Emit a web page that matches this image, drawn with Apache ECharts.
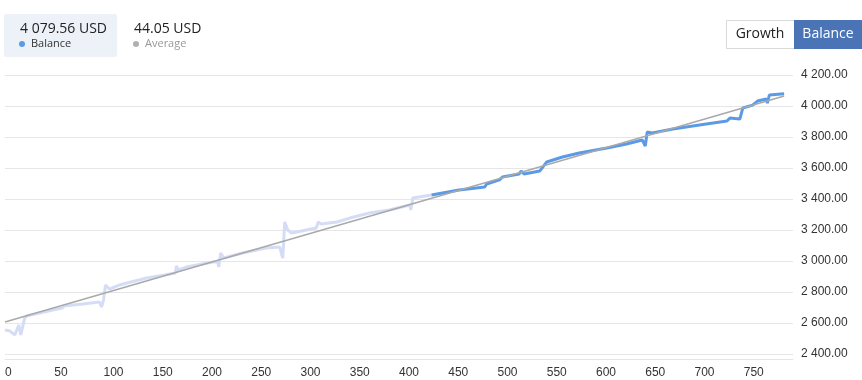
<!DOCTYPE html>
<html>
<head>
<meta charset="utf-8">
<script src="https://cdn.jsdelivr.net/npm/echarts@6/dist/echarts.min.js"></script>
<style>
html,body{margin:0;padding:0;background:#fff;}
#chart{width:862px;height:380px;}
</style>
</head>
<body>
<div id="chart"></div>
<script>
// ---- data ----
const tradeNo = [0,5,10,12,14,16,18,20,22,35,58,60,79,96,98,100,102,106,116,144,162,173,174,176,184,211,216,217,219,222,241,265,279,281,282,284,287,291,316,318,321,337,350,370,390,411,412,414,433,461,487,489,502,505,522,524,527,543,546,550,566,583,611,631,647,650,652,657,678,705,733,736,746,749,759,764,773,774,776,791];
const balance = [2555,2548,2523,2529,2587,2523,2535,2632,2645,2665,2697,2710,2723,2735,2703,2748,2845,2819,2845,2890,2910,2923,2968,2942,2961,2994,2994,2961,3052,3019,3052,3084,3090,3039,3019,3252,3200,3181,3213,3252,3239,3252,3277,3310,3329,3361,3329,3406,3426,3458,3477,3497,3523,3542,3561,3581,3561,3581,3606,3639,3671,3697,3729,3755,3781,3742,3832,3826,3852,3877,3903,3923,3916,3987,4006,4032,4045,4019,4071,4079.56];
const averageX = [0, 791];
const averageY = [2606, 4064];
const highlightFrom = 433;
const xTicks = {min: 0, max: 800, step: 50};
const yTicks = {min: 2400, max: 4200, step: 200};
const headerBalance = '4 079.56 USD';
const headerAverage = '44.05 USD';
const buttons = ['Growth', 'Balance'];

function fmtNum(v){
  const parts = v.toFixed(2).split('.');
  parts[0] = parts[0].replace(/\B(?=(\d{3})+(?!\d))/g, ' ');
  return parts.join('.');
}

const allPts = tradeNo.map((x, i) => [x, balance[i]]);
const histPts = allPts.filter(p => p[0] <= highlightFrom);
const recentPts = allPts.filter(p => p[0] >= highlightFrom);

const chart = echarts.init(document.getElementById('chart'), null, {renderer:'canvas'});
const font = '"Liberation Sans", Arial, sans-serif';
chart.setOption({
  animation: false,
  grid: {left: 5, right: 69, top: 75, bottom: 26, containLabel: false},
  xAxis: {
    type: 'value', min: xTicks.min, max: xTicks.max, interval: xTicks.step,
    offset: 5,
    axisLine: {show: true, lineStyle: {color: '#e6e6e6', width: 1}},
    axisTick: {show: false},
    splitLine: {show: false},
    axisLabel: {align: 'left', margin: 8, color: '#333', fontSize: 12, fontFamily: font, showMaxLabel: false}
  },
  yAxis: {
    type: 'value', position: 'right', min: yTicks.min, max: yTicks.max, interval: yTicks.step,
    axisLine: {show: false}, axisTick: {show: false},
    splitLine: {lineStyle: {color: '#e6e6e6', width: 1}},
    axisLabel: {margin: 8, color: '#333', fontSize: 12, fontFamily: font, formatter: v => fmtNum(v)}
  },
  series: [
    {
      type: 'line', showSymbol: false, data: histPts,
      lineStyle: {width: 3, color: '#d5ddf6'}, itemStyle: {color: '#d5ddf6'}, z: 2
    },
    {
      type: 'line', showSymbol: false, data: recentPts,
      lineStyle: {width: 3, color: '#5b9be6'}, itemStyle: {color: '#5b9be6'}, z: 2
    },
    {
      type: 'line', showSymbol: false, data: averageX.map((x, i) => [x, averageY[i]]),
      lineStyle: {width: 1.5, color: '#a9a9a9'}, itemStyle: {color: '#a9a9a9'}, z: 3
    }
  ],
  graphic: [
    {type: 'rect', left: 4, top: 14, shape: {width: 113, height: 43, r: 2}, style: {fill: '#edf2f9'}},
    {type: 'text', left: 20, top: 22, style: {text: headerBalance, font: '14px "Open Sans", "DejaVu Sans", sans-serif', fill: '#222'}},
    {type: 'circle', shape: {cx: 22, cy: 44, r: 3}, style: {fill: '#5b9be6'}},
    {type: 'text', left: 31, top: 38, style: {text: 'Balance', font: '11px "Open Sans", sans-serif', fill: '#333'}},
    {type: 'text', left: 134, top: 22, style: {text: headerAverage, font: '14px "Open Sans", "DejaVu Sans", sans-serif', fill: '#222'}},
    {type: 'circle', shape: {cx: 136, cy: 44, r: 3}, style: {fill: '#b0b0b0'}},
    {type: 'text', left: 145, top: 38, style: {text: 'Average', font: '11px "Open Sans", sans-serif', fill: '#999'}},
    {type: 'rect', left: 726, top: 20, shape: {width: 68, height: 28}, style: {fill: '#fff', stroke: '#d9d9d9', lineWidth: 1}},
    {type: 'text', x: 760, y: 34, style: {text: buttons[0], font: '14px "Open Sans", sans-serif', fill: '#222', align: 'center', verticalAlign: 'middle'}},
    {type: 'rect', left: 794, top: 20, shape: {width: 68, height: 29}, style: {fill: '#4a74b6'}},
    {type: 'text', x: 828, y: 34, style: {text: buttons[1], font: '14px "Open Sans", sans-serif', fill: '#fff', align: 'center', verticalAlign: 'middle'}}
  ]
});
</script>
</body>
</html>
